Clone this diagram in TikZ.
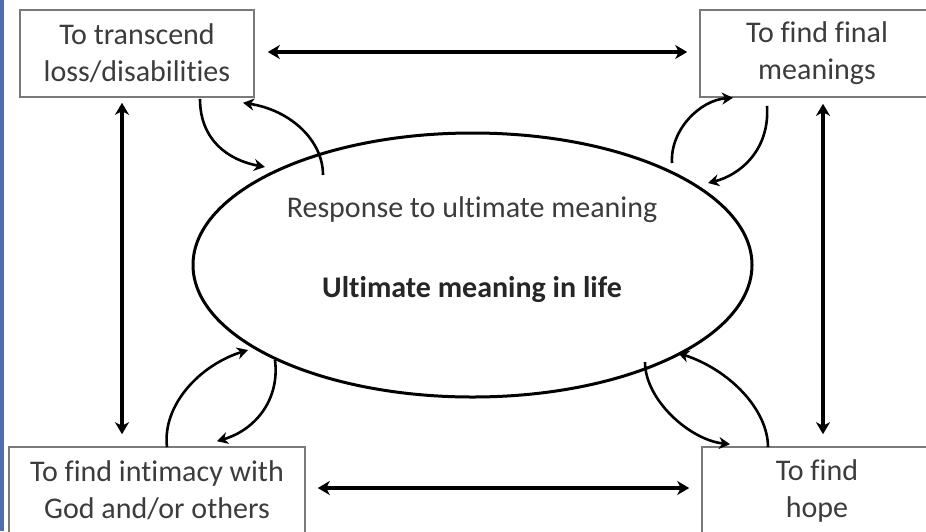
\documentclass[tikz,border=0pt]{standalone}
\usepackage{fontspec}
\setmainfont{Carlito}[Ligatures=NoCommon]
\usetikzlibrary{shapes.geometric,arrows.meta,calc}
\definecolor{txtgray}{HTML}{3C3C3C}
\definecolor{boxgray}{HTML}{7A7A7A}
\definecolor{stripblue}{HTML}{4F6DB0}
\tikzset{
  boxnode/.style={draw=boxgray, line width=1.6pt, minimum width=234pt, minimum height=87pt,
    align=center, font=\fontsize{30}{37}\selectfont, text=txtgray, inner sep=0pt},
  biarrow/.style={line width=3.6pt, {Stealth[length=12pt,width=14pt,inset=3.5pt]}-{Stealth[length=12pt,width=14pt,inset=3.5pt]}},
  curvearrow/.style={line width=2.6pt, -{Stealth[length=11pt,width=12pt,inset=3.5pt]}},
  maintext/.style={anchor=base, font=\fontsize{30}{37}\selectfont, text=txtgray, inner sep=0pt}
}
\begin{document}
\begin{tikzpicture}[x=1pt,y=-1pt]
\useasboundingbox (0,0) rectangle (926,531);
\fill[white] (0,0) rectangle (926,531);
\fill[stripblue] (0,0) rectangle (3.5,531);

% ellipse
\node[ellipse, draw, line width=3pt, minimum width=559pt, minimum height=264pt, inner sep=0pt] (ell) at (472.5,265) {};
\node[maintext] (resp) at (472,217) {Response to ultimate meaning};
\node[maintext, font=\fontsize{30}{37}\selectfont\bfseries, text=black!85] (ult) at (472,297) {Ultimate meaning in life};

% boxes
\node[boxnode] (tl) at (137,53.5) {To transcend\\loss/disabilities};
\node[boxnode] (tr) at (817,53.5) {To find final\\meanings};
\node[boxnode, minimum width=296pt] (bl) at (157,490.5) {To find intimacy with\\God and/or others};
\node[boxnode, minimum width=230pt] (br) at (817,490.5) {To find\\hope};

% straight double arrows
\draw[biarrow, shorten <=13pt, shorten >=12pt] ([yshift=1.5pt]tl.east) -- ([yshift=1.5pt]tr.west);
\draw[biarrow, shorten <=12pt, shorten >=12pt] ([yshift=2.5pt]bl.east) -- ([yshift=2.5pt]br.west);
\draw[biarrow, shorten <=5pt, shorten >=12pt] ([xshift=-15pt]tl.south) -- ([xshift=-35pt]bl.north);
\draw[biarrow, shorten <=6pt, shorten >=12pt] ([xshift=6pt]tr.south) -- ([xshift=6pt]br.north);

% points on the ellipse side
\coordinate (tlin) at (265,167);
\coordinate (tlout) at (323,175);
\coordinate (trout) at (672,163);
\coordinate (trin) at (708,183);
\coordinate (blin) at (248,350);
\coordinate (blout) at (275,360);
\coordinate (brout) at (645,362);
\coordinate (brin) at (678,353);

% curved arrows
\draw[curvearrow] ($(tl.south)+(63,1)$) .. controls (200,140) and (228,160) .. (tlin);
\draw[curvearrow] (tlout) .. controls (323,140) and (290,110) .. ($(tl.south)+(106,5)$);
\draw[curvearrow] (trout) .. controls (670,130) and (700,100) .. ($(tr.south)+(-84,0)$);
\draw[curvearrow] ($(tr.south)+(-50,8)$) .. controls (770,150) and (740,175) .. (trin);
\draw[curvearrow] ($(bl.north)+(10,1)$) .. controls (162,405) and (200,365) .. (blin);
\draw[curvearrow] (blout) .. controls (280,400) and (255,430) .. ($(bl.north)+(60,-5)$);
\draw[curvearrow] (brout) .. controls (645,400) and (690,440) .. ($(br.north)+(-87,-2)$);
\draw[curvearrow] ($(br.north)+(-49,1)$) .. controls (768,410) and (730,370) .. (brin);
\end{tikzpicture}
\end{document}
